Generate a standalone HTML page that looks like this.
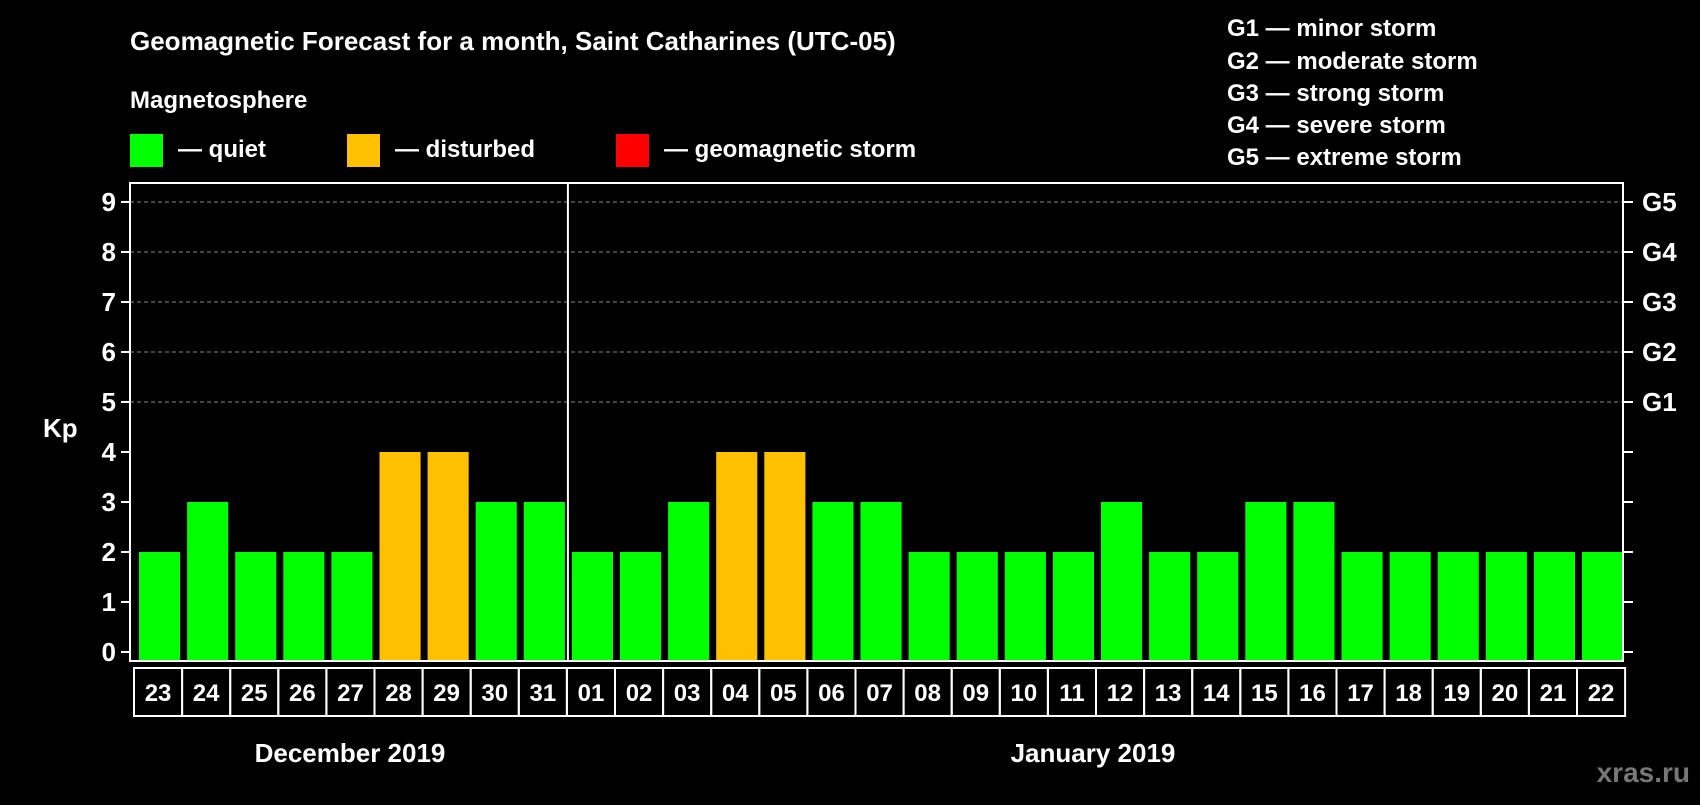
<!DOCTYPE html>
<html><head><meta charset="utf-8"><style>
body{margin:0;background:#000;width:1700px;height:800px;overflow:hidden}
text{font-family:"Liberation Sans",Arial,sans-serif;font-weight:bold;fill:#fff}
</style></head><body>
<svg width="1700" height="800" viewBox="0 0 1700 800" xmlns="http://www.w3.org/2000/svg">
<rect width="1700" height="800" fill="#000"/>
<text x="130" y="50" font-size="26">Geomagnetic Forecast for a month, Saint Catharines  (UTC-05)</text>
<text x="130" y="108" font-size="24">Magnetosphere</text>
<g>
<rect x="130" y="134" width="33" height="33" fill="#00ff00"/>
<text x="178" y="157" font-size="24">— quiet</text>
<rect x="347" y="134" width="33" height="33" fill="#ffc000"/>
<text x="395" y="157" font-size="24">— disturbed</text>
<rect x="616" y="134" width="33" height="33" fill="#ff0000"/>
<text x="664" y="157" font-size="24">— geomagnetic storm</text>
</g>
<g font-size="24">
<text x="1227" y="36">G1 — minor storm</text>
<text x="1227" y="69">G2 — moderate storm</text>
<text x="1227" y="101">G3 — strong storm</text>
<text x="1227" y="133">G4 — severe storm</text>
<text x="1227" y="165">G5 — extreme storm</text>
</g>
<text x="43" y="437" font-size="26">Kp</text>
<g id="grid"></g>
<g id="bars"></g>
<g id="axes"></g>
<text x="350" y="762" font-size="26" text-anchor="middle">December 2019</text>
<text x="1093" y="762" font-size="26" text-anchor="middle">January 2019</text>
<text x="1690" y="782" font-size="28" text-anchor="end" style="fill:#777">xras.ru</text>
</svg>
<script>
const days=["23","24","25","26","27","28","29","30","31","01","02","03","04","05","06","07","08","09","10","11","12","13","14","15","16","17","18","19","20","21","22"];
const kp=[2,3,2,2,2,4,4,3,3,2,2,3,4,4,3,3,2,2,2,2,3,2,2,3,3,2,2,2,2,2,2];
const yTicks=[0,1,2,3,4,5,6,7,8,9];
const gLabels=["G1","G2","G3","G4","G5"];
const gLevels=[5,6,7,8,9];
const NS="http://www.w3.org/2000/svg";
const L=130,R=1623,T=183,B=661,X0=134,pitch=48.1;
const y=v=>652-v*50;
const x=i=>X0+i*pitch;
function mk(tag,attrs,parent){const e=document.createElementNS(NS,tag);for(const k in attrs)e.setAttribute(k,attrs[k]);document.getElementById(parent).appendChild(e);return e;}
yTicks.forEach(v=>{
 if(v>=5){const g=mk('line',{x1:L,x2:R,y1:y(v),y2:y(v),stroke:'#888','stroke-dasharray':'4,3','stroke-width':1},'grid');
 
 }
 const t=mk('line',{x1:L-9,x2:L,y1:y(v),y2:y(v),stroke:'#fff','stroke-width':2},'axes');
 
 
 const t2=mk('line',{x1:R,x2:R+10,y1:y(v),y2:y(v),stroke:'#fff','stroke-width':2},'axes');
 
 
 const lb=mk('text',{x:L-14,y:y(v)+9,'font-size':26,'text-anchor':'end'},'axes');lb.textContent=v;
 
 
});
gLabels.forEach((g,i)=>{
 const lb=mk('text',{x:1642,y:y(gLevels[i])+9,'font-size':26},'axes');lb.textContent=g;
 
 
});
kp.forEach((v,i)=>{
 const c=v>=5?'#ff0000':(v>=4?'#ffc000':'#00ff00');
 const r=mk('rect',{x:x(i)+5,width:pitch-7,y:y(v),height:B-y(v)-1,fill:c},'bars');
 
 
 const bx=mk('rect',{x:x(i),y:668,width:pitch,height:48,fill:'none',stroke:'#fff','stroke-width':2},'axes');
 
 
 const lb=mk('text',{x:x(i)+pitch/2,y:701,'font-size':24,'text-anchor':'middle'},'axes');lb.textContent=days[i];
 
 
});
const fr=mk('rect',{x:L,y:T,width:R-L,height:B-T,fill:'none',stroke:'#fff','stroke-width':2},'axes');


const dv=mk('line',{x1:x(9)+1,x2:x(9)+1,y1:T,y2:B,stroke:'#fff','stroke-width':2},'axes');


</script>
</body></html>
